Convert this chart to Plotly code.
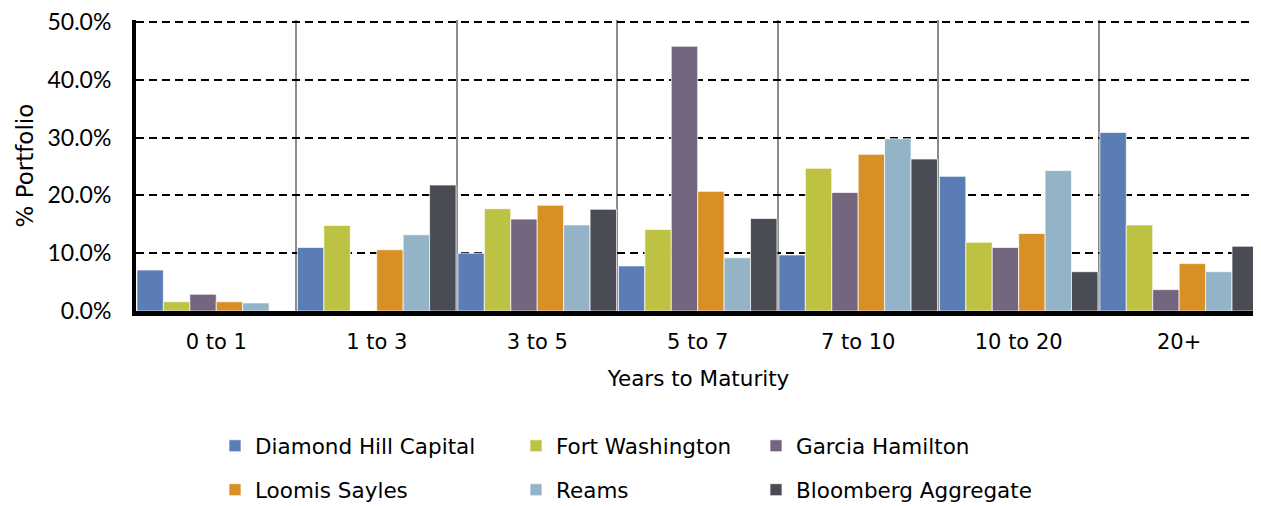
import plotly.graph_objects as go

categories = ["0 to 1", "1 to 3", "3 to 5", "5 to 7", "7 to 10", "10 to 20", "20+"]

diamond_hill = [7.1, 11.0, 10.0, 7.8, 9.7, 23.3, 30.9]
fort_washington = [1.6, 14.8, 17.7, 14.1, 24.7, 11.9, 14.9]
garcia_hamilton = [2.9, 0.0, 15.9, 45.8, 20.5, 11.0, 3.7]
loomis_sayles = [1.6, 10.6, 18.3, 20.7, 27.1, 13.4, 8.2]
reams = [1.4, 13.2, 14.9, 9.2, 29.8, 24.3, 6.8]
bloomberg_agg = [0.0, 21.8, 17.6, 16.0, 26.3, 6.8, 11.2]

y_tick_values = [0, 10, 20, 30, 40, 50]
y_tick_labels = ["0.0%", "10.0%", "20.0%", "30.0%", "40.0%", "50.0%"]

series = [
    ("Diamond Hill Capital", diamond_hill, "#5B7DB5", "legend"),
    ("Fort Washington", fort_washington, "#BEC243", "legend2"),
    ("Garcia Hamilton", garcia_hamilton, "#74667E", "legend3"),
    ("Loomis Sayles", loomis_sayles, "#D88F25", "legend"),
    ("Reams", reams, "#93B4C7", "legend2"),
    ("Bloomberg Aggregate", bloomberg_agg, "#4A4C55", "legend3"),
]

FONT = "DejaVu Sans"
YFONT = "Lato"
W, H = 1253, 498  # page body has an 8px margin
L, R, T, B = 128, 0, 12, 195
PLOT_W = W - L - R

fig = go.Figure()
for name, vals, color, leg in series:
    fig.add_trace(go.Bar(
        name=name, x=categories, y=vals,
        marker=dict(color=color, line=dict(color="rgba(255,255,255,0.7)", width=1)),
        legend=leg, legendgroup=name,
    ))

leg_common = dict(
    orientation="v", xref="container", yref="container",
    xanchor="left", yanchor="top", font=dict(family=FONT, size=21.5, color="#000"),
    tracegroupgap=13, bgcolor="rgba(0,0,0,0)", borderwidth=0,
)
leg_top = 1 - 417.3 / H

fig.update_layout(
    width=W, height=H,
    margin=dict(l=L, r=R, t=T, b=B, autoexpand=False),
    paper_bgcolor="white", plot_bgcolor="white",
    barmode="group", bargap=0.012, bargroupgap=0,
    font=dict(family=FONT, size=20, color="#000"),
    xaxis=dict(
        range=[-0.5, 6.51],
        showgrid=True, tickson="boundaries", gridcolor="#8C8C8C", gridwidth=2,
        showline=True, linecolor="#000", linewidth=5,
        ticks="", ticklabelstandoff=8, tickangle=0,
        tickfont=dict(family=FONT, size=21, color="#000"),
        title=dict(text="Years to Maturity", font=dict(family=FONT, size=21.5, color="#000"), standoff=19),
    ),
    yaxis=dict(
        range=[0, 50.35],
        tickmode="array", tickvals=y_tick_values, ticktext=y_tick_labels,
        showgrid=True, gridcolor="#000", gridwidth=2, griddash="8px,5px",
        zeroline=False,
        showline=True, linecolor="#000", linewidth=4,
        ticks="outside", ticklen=16, tickcolor="rgba(0,0,0,0)",
        ticklabeloverflow="allow",
        tickfont=dict(family=YFONT, size=23, color="#000"),
    ),
    annotations=[dict(
        text="% Portfolio", textangle=-90, showarrow=False,
        xref="paper", yref="paper", x=(16 - L) / PLOT_W, y=0.5,
        xanchor="center", yanchor="middle",
        font=dict(family=FONT, size=23, color="#000"),
    )],
    legend=dict(x=207 / W, y=leg_top, **leg_common),
    legend2=dict(x=508 / W, y=leg_top, **leg_common),
    legend3=dict(x=748 / W, y=leg_top, **leg_common),
    showlegend=True,
)

fig.write_html("out.html")
